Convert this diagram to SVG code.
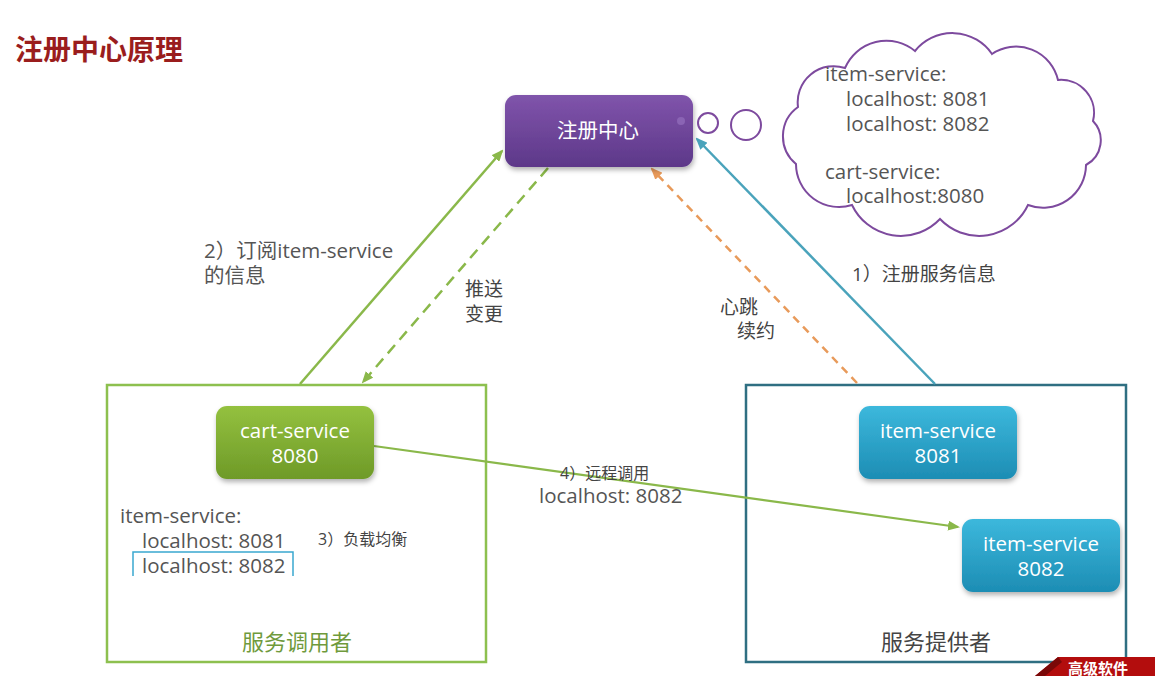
<svg xmlns="http://www.w3.org/2000/svg" width="1155" height="676" viewBox="0 0 1155 676">
<style>
  .t{font-family:"Open Sans","Noto Sans CJK SC",sans-serif;}
  .lbl{fill:#444;}
  .big{font-size:20.5px;fill:#555;}
  .nodeText{font-size:20.5px;fill:#fff;text-anchor:middle;}
</style>
<defs>
  <linearGradient id="gPurple" x1="0" y1="0" x2="0" y2="1"><stop offset="0" stop-color="#8054ab"/><stop offset="1" stop-color="#5d3889"/></linearGradient>
  <linearGradient id="gGreen" x1="0" y1="0" x2="0" y2="1"><stop offset="0" stop-color="#94c13f"/><stop offset="1" stop-color="#6e9a28"/></linearGradient>
  <linearGradient id="gBlue" x1="0" y1="0" x2="0" y2="1"><stop offset="0" stop-color="#3cb8dc"/><stop offset="1" stop-color="#1d8db4"/></linearGradient>
  <filter id="sh" x="-10%" y="-10%" width="125%" height="135%"><feDropShadow dx="1" dy="3" stdDeviation="2.5" flood-color="#000" flood-opacity="0.3"/></filter>
  <marker id="mGreen" markerWidth="12" markerHeight="10" refX="10" refY="5" orient="auto" markerUnits="userSpaceOnUse"><path d="M0,0 L12,5 L0,10 Z" fill="#8ab84a"/></marker>
  <marker id="mOrange" markerWidth="12" markerHeight="10" refX="10" refY="5" orient="auto" markerUnits="userSpaceOnUse"><path d="M0,0 L12,5 L0,10 Z" fill="#e89a5a"/></marker>
  <marker id="mBlue" markerWidth="12" markerHeight="10" refX="10" refY="5" orient="auto" markerUnits="userSpaceOnUse"><path d="M0,0 L12,5 L0,10 Z" fill="#4aa3bb"/></marker>
</defs>
<rect width="1155" height="676" fill="#fff"/>

<text class="t" x="15" y="60" font-size="28" font-weight="bold" fill="#9a1d1d">注册中心原理</text>

<g id="consumer-box">
  <rect x="107" y="385" width="379" height="277" fill="none" stroke="#8dc04f" stroke-width="2.5"/>
  <text class="t" x="297" y="650" font-size="22" fill="#6f9a3c" text-anchor="middle">服务调用者</text>
</g>
<g id="provider-box">
  <rect x="746" y="385" width="380" height="277" fill="none" stroke="#2f6f82" stroke-width="2.5"/>
  <text class="t" x="936" y="650" font-size="22" fill="#444" text-anchor="middle">服务提供者</text>
</g>

<g id="connectors" fill="none" stroke-width="2.5">
  <line x1="300" y1="384" x2="502" y2="151" stroke="#8ab84a" marker-end="url(#mGreen)"/>
  <line x1="548" y1="168" x2="363" y2="382" stroke="#8ab84a" stroke-dasharray="11 7" marker-end="url(#mGreen)"/>
  <line x1="857" y1="383" x2="652" y2="169" stroke="#e89a5a" stroke-dasharray="8 6" marker-end="url(#mOrange)"/>
  <line x1="935" y1="384" x2="697" y2="139" stroke="#4aa3bb" marker-end="url(#mBlue)"/>
  <line x1="374" y1="446" x2="958" y2="527" stroke="#8ab84a" stroke-width="2.2" marker-end="url(#mGreen)"/>
</g>

<g id="registry">
  <rect x="505" y="95" width="188" height="72" rx="11" fill="url(#gPurple)" filter="url(#sh)"/>
  <circle cx="681" cy="121" r="4" fill="#8a64b4"/>
  <text class="t nodeText" x="598" y="138" font-size="19">注册中心</text>
</g>

<g id="cloud" fill="none" stroke="#7d4a9e" stroke-width="2">
  <circle cx="708" cy="123" r="10"/>
  <circle cx="746" cy="125" r="15"/>
  <path d="M798,107 A36,36 0 0 1 845,68 A45,45 0 0 1 915,51 A48,48 0 0 1 992,54 A43,43 0 0 1 1058,80 A33,33 0 0 1 1093,121 A28,28 0 0 1 1086,165 A43,43 0 0 1 1028,205 A54,54 0 0 1 940,219 A54,54 0 0 1 852,205 A43,43 0 0 1 796,164 A36,36 0 0 1 798,107 Z" fill="#fff"/>
  <text class="t big" x="825" y="81" stroke="none">item-service:</text>
  <text class="t big" x="846" y="106" stroke="none">localhost: 8081</text>
  <text class="t big" x="846" y="131" stroke="none">localhost: 8082</text>
  <text class="t big" x="825" y="179" stroke="none">cart-service:</text>
  <text class="t big" x="846" y="203" stroke="none">localhost:8080</text>
</g>

<g id="cart-service">
  <rect x="216" y="406" width="158" height="73" rx="11" fill="url(#gGreen)" filter="url(#sh)"/>
  <text class="t nodeText" x="295" y="438">cart-service</text>
  <text class="t nodeText" x="295" y="463">8080</text>
</g>
<g id="item-service-8081">
  <rect x="859" y="406" width="158" height="73" rx="11" fill="url(#gBlue)" filter="url(#sh)"/>
  <text class="t nodeText" x="938" y="438">item-service</text>
  <text class="t nodeText" x="938" y="463">8081</text>
</g>
<g id="item-service-8082">
  <rect x="962" y="519" width="158" height="73" rx="11" fill="url(#gBlue)" filter="url(#sh)"/>
  <text class="t nodeText" x="1041" y="551">item-service</text>
  <text class="t nodeText" x="1041" y="576">8082</text>
</g>

<g id="labels">
  <text class="t big" x="204" y="258">2）订阅item-service</text>
  <text class="t big" x="204" y="283">的信息</text>
  <text class="t lbl" x="465" y="296" font-size="19">推送</text>
  <text class="t lbl" x="465" y="321" font-size="19">变更</text>
  <text class="t lbl" x="720" y="314" font-size="19">心跳</text>
  <text class="t lbl" x="737" y="338" font-size="19">续约</text>
  <text class="t lbl" x="852" y="281" font-size="19">1）注册服务信息</text>
  <text class="t lbl" x="560" y="479" font-size="16">4）远程调用</text>
  <text class="t big" x="539" y="503">localhost: 8082</text>
  <text class="t big" x="120" y="523">item-service:</text>
  <text class="t big" x="142" y="548">localhost: 8081</text>
  <text class="t big" x="142" y="573">localhost: 8082</text>
  <path d="M133,576 V552 H293 V576" fill="none" stroke="#3aa8d0" stroke-width="1.5"/>
  <text class="t lbl" x="318" y="545" font-size="16">3）负载均衡</text>
</g>

<g id="logo">
  <polygon points="1058,657 1155,657 1155,676 1035,676" fill="#b30d0d"/>
  <polygon points="1035,676 1058,657 1062,662 1045,676" fill="#7a0808"/>
  <text x="1068" y="674" font-family="'Liberation Serif','Noto Sans CJK SC',serif" font-size="15" font-weight="bold" fill="#fff">高级软件</text>
</g>
</svg>
